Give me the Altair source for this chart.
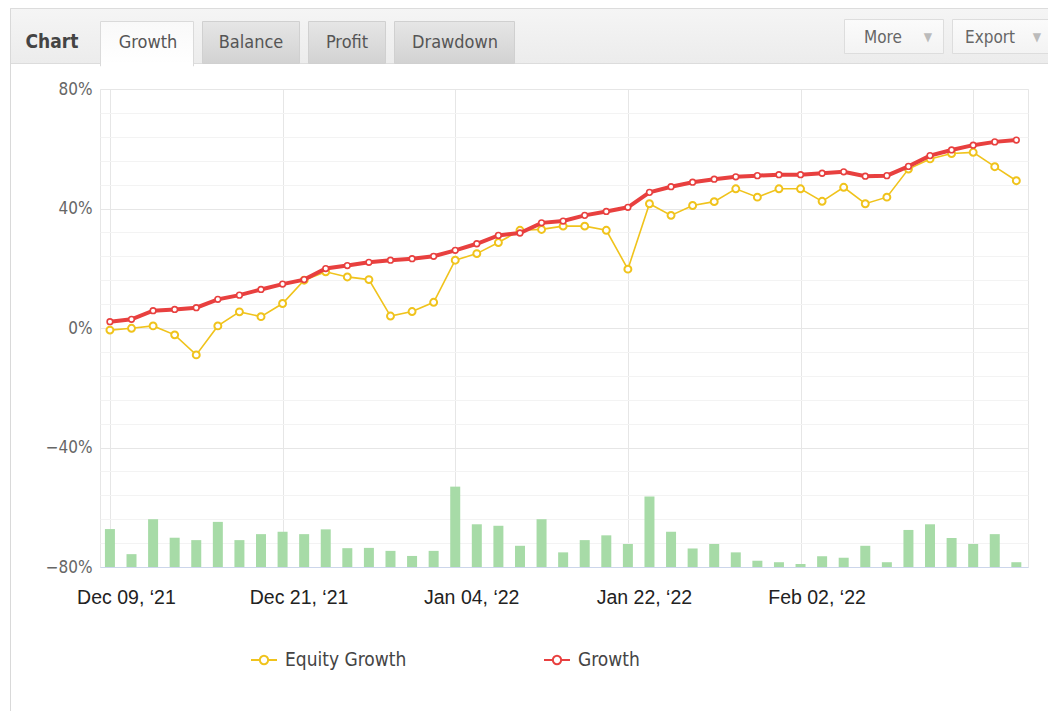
import altair as alt
import pandas as pd

# ---------------- data ----------------
point_idx = list(range(43))
equity_growth = [-0.7, -0.1, 0.7, -2.3, -9.0, 0.7, 5.4, 3.8, 8.2, 16.0,
                 18.8, 17.1, 16.2, 4.0, 5.5, 8.6, 22.7, 24.9, 28.6, 32.7,
                 33.0, 34.1, 34.1, 32.7, 19.7, 41.6, 37.7, 41.0, 42.3, 46.6,
                 43.8, 46.6, 46.6, 42.4, 47.1, 41.6, 43.8, 53.2, 56.6, 58.4,
                 58.8, 54.0, 49.3]
growth = [2.1, 2.9, 5.8, 6.2, 6.8, 9.6, 11.0, 12.9, 14.7, 16.2,
          19.9, 20.9, 22.0, 22.7, 23.2, 24.0, 26.0, 28.2, 31.0, 31.8,
          35.2, 35.8, 37.7, 39.0, 40.4, 45.4, 47.3, 48.8, 49.8, 50.6,
          51.0, 51.3, 51.3, 51.8, 52.3, 50.8, 51.0, 54.1, 57.7, 59.6,
          61.2, 62.3, 62.9]
bar_heights = [12.7, 4.3, 16.0, 9.8, 9.0, 15.1, 9.0, 11.0, 11.8, 11.0,
               12.6, 6.3, 6.4, 5.4, 3.7, 5.4, 26.9, 14.3, 13.8, 7.1,
               16.0, 4.9, 9.0, 10.6, 7.7, 23.6, 11.8, 6.2, 7.7, 4.9,
               2.1, 1.6, 1.0, 3.6, 3.1, 7.1, 1.6, 12.4, 14.3, 9.7,
               7.7, 11.0, 1.6]
xtick_idx = [0, 8, 16, 24, 32, 40]
xtick_labels = ["Dec 09, \u201821", "Dec 21, \u201821", "Jan 04, \u201822",
                "Jan 22, \u201822", "Feb 02, \u201822", ""]
ytick_values = list(range(-80, 81, 8))
series_names = ["Equity Growth", "Growth"]
series_colors = ["#f0c31c", "#e8403f"]

# ---------------- tables ----------------
lines_df = pd.DataFrame({
    "idx": point_idx * 2,
    "value": equity_growth + growth,
    "series": [series_names[0]] * len(point_idx) + [series_names[1]] * len(point_idx),
})
bars_df = pd.DataFrame({"idx": point_idx, "h": bar_heights})
one = pd.DataFrame({"k": [0]})

UI = "DejaVu Sans Condensed, Liberation Sans Narrow, DejaVu Sans, sans-serif"
AR = "Liberation Sans, Arial, sans-serif"

W, H = 928, 478
OX, OY = 100, 89   # page position of the plot origin


def X(px):
    return px - OX


def Y(py):
    return py - OY


xs = alt.Scale(domain=[-0.46, 42.54], nice=False, zero=False, padding=0)
ys = alt.Scale(domain=[-80, 80], nice=False, zero=False, padding=0)
cs = alt.Scale(domain=series_names, range=series_colors)

label_arr = "[" + ",".join("'" + s + "'" for s in xtick_labels) + "]"
x_axis = alt.Axis(values=xtick_idx, grid=True, gridColor="#e6e6e6", ticks=False,
                  domain=True, domainColor="#ccd6eb", domainWidth=1,
                  labelExpr=label_arr + "[round(datum.value / 8)]",
                  labelFont=AR, labelFontSize=19.5, labelColor="#222222",
                  labelPadding=21, labelOffset=16, labelFlush=False,
                  labelOverlap=False, labelAngle=0, title=None)
y_axis = alt.Axis(values=ytick_values, grid=True,
                  gridColor={"condition": {"test": "datum.value % 40 === 0", "value": "#e6e6e6"},
                             "value": "#f3f3f3"},
                  ticks=False, domain=False,
                  labelExpr="datum.value % 40 === 0 ? (datum.value < 0 ? '\u2212' + abs(datum.value) : datum.value) + '%' : ''",
                  labelFont=UI, labelFontSize=17, labelColor="#666666",
                  labelPadding=8, labelOverlap=False, title=None)

legend_symbol = "M-1,0H-0.32M0.32,0H1M0.32,0A0.32,0.32 0 1,1 -0.32,0A0.32,0.32 0 1,1 0.32,0"
legend = alt.Legend(orient="none", legendX=150, legendY=557, direction="horizontal",
                    title=None, symbolType=legend_symbol, symbolSize=676,
                    symbolStrokeWidth=2, symbolFillColor="#ffffff",
                    labelFont=UI, labelFontSize=19, labelColor="#444444",
                    labelOffset=7, columnPadding=133, padding=0)


# ---------------- decoration helpers ----------------
def box(x1, y1, x2, y2, fill, stroke=None, sw=1):
    kw = {"fill": fill}
    if stroke:
        kw["stroke"] = stroke
        kw["strokeWidth"] = sw
    return alt.Chart(one).mark_rect(**kw).encode(
        x=alt.value(X(x1)), x2=alt.value(X(x2)), y=alt.value(Y(y1)), y2=alt.value(Y(y2)))


def vline(x, y1, y2, color):
    return alt.Chart(one).mark_rule(color=color, strokeWidth=1).encode(
        x=alt.value(X(x)), y=alt.value(Y(y1)), y2=alt.value(Y(y2)))


def label(txt, x, y, size, color, weight="normal", font=UI):
    return alt.Chart(one).mark_text(text=txt, fontSize=size, color=color, font=font,
                                    fontWeight=weight, align="center", baseline="middle").encode(
        x=alt.value(X(x)), y=alt.value(Y(y)))


def grad(c1, c2):
    return {"gradient": "linear", "x1": 0, "y1": 0, "x2": 0, "y2": 1,
            "stops": [{"offset": 0, "color": c1}, {"offset": 1, "color": c2}]}


deco = [
    box(10.5, 8.5, 1060, 63.5, grad("#f5f5f5", "#ececec"), "#dcdcdc"),
    vline(10.5, 8.5, 715, "#d9d9d9"),
    label("Chart", 52, 42, 19, "#444444", "bold"),
    box(100.5, 21.5, 193.5, 66, grad("#f9f9f9", "#ffffff"), "#dadada"),
    box(101, 62, 193, 68, "#ffffff"),
    label("Growth", 148, 43, 18, "#555555"),
    box(202.5, 21.5, 299.5, 63.5, grad("#e6e6e6", "#d2d2d2"), "#d0d0d0"),
    label("Balance", 251, 43, 18, "#555555"),
    box(308.5, 21.5, 385.5, 63.5, grad("#e6e6e6", "#d2d2d2"), "#d0d0d0"),
    label("Profit", 347, 43, 18, "#555555"),
    box(394.5, 21.5, 514.5, 63.5, grad("#e6e6e6", "#d2d2d2"), "#d0d0d0"),
    label("Drawdown", 455, 43, 18, "#555555"),
    box(844.5, 19.5, 943.5, 53.5, grad("#fbfbfb", "#f3f3f3"), "#dddddd"),
    label("More", 883, 38, 17, "#666666"),
    label("\u25BC", 928, 37, 12, "#bbbbbb"),
    box(952.5, 19.5, 1052.5, 53.5, grad("#fbfbfb", "#f3f3f3"), "#dddddd"),
    label("Export", 990, 38, 17, "#666666"),
    label("\u25BC", 1037, 37, 12, "#bbbbbb"),
]

# ---------------- data layers ----------------
bars = alt.Chart(bars_df).transform_calculate(top="-80 + datum.h").mark_bar(
    color="#a7dba7", size=10).encode(
    x=alt.X("idx:Q", scale=xs, axis=x_axis),
    y=alt.Y("top:Q", scale=ys, axis=y_axis),
    y2=alt.datum(-80),
)


def series_layers(name, width, psize, pwidth):
    base = alt.Chart(lines_df).transform_filter(alt.datum.series == name)
    enc_x = alt.X("idx:Q", scale=xs, axis=x_axis)
    enc_y = alt.Y("value:Q", scale=ys, axis=y_axis)
    ln = base.mark_line(strokeWidth=width).encode(
        x=enc_x, y=enc_y,
        color=alt.Color("series:N", scale=cs, legend=legend))
    pt = base.mark_point(shape="circle", filled=False, fill="#ffffff", fillOpacity=1,
                         size=psize, strokeWidth=pwidth, opacity=1).encode(
        x=enc_x, y=enc_y,
        stroke=alt.Stroke("series:N", scale=cs, legend=None))
    return [ln, pt]


layers = deco + [bars] + series_layers("Equity Growth", 1.6, 48, 2) + \
    series_layers("Growth", 4, 32, 1.6)

chart = alt.layer(*layers).properties(
    width=W, height=H,
    autosize=alt.AutoSizeParams(type="none"),
    padding={"left": 92, "top": 81, "right": 20, "bottom": 144},
    background="#ffffff",
).configure_view(stroke="#e6e6e6", fill="#ffffff")

chart.save("out.html", embed_options={"renderer": "svg", "actions": False})
